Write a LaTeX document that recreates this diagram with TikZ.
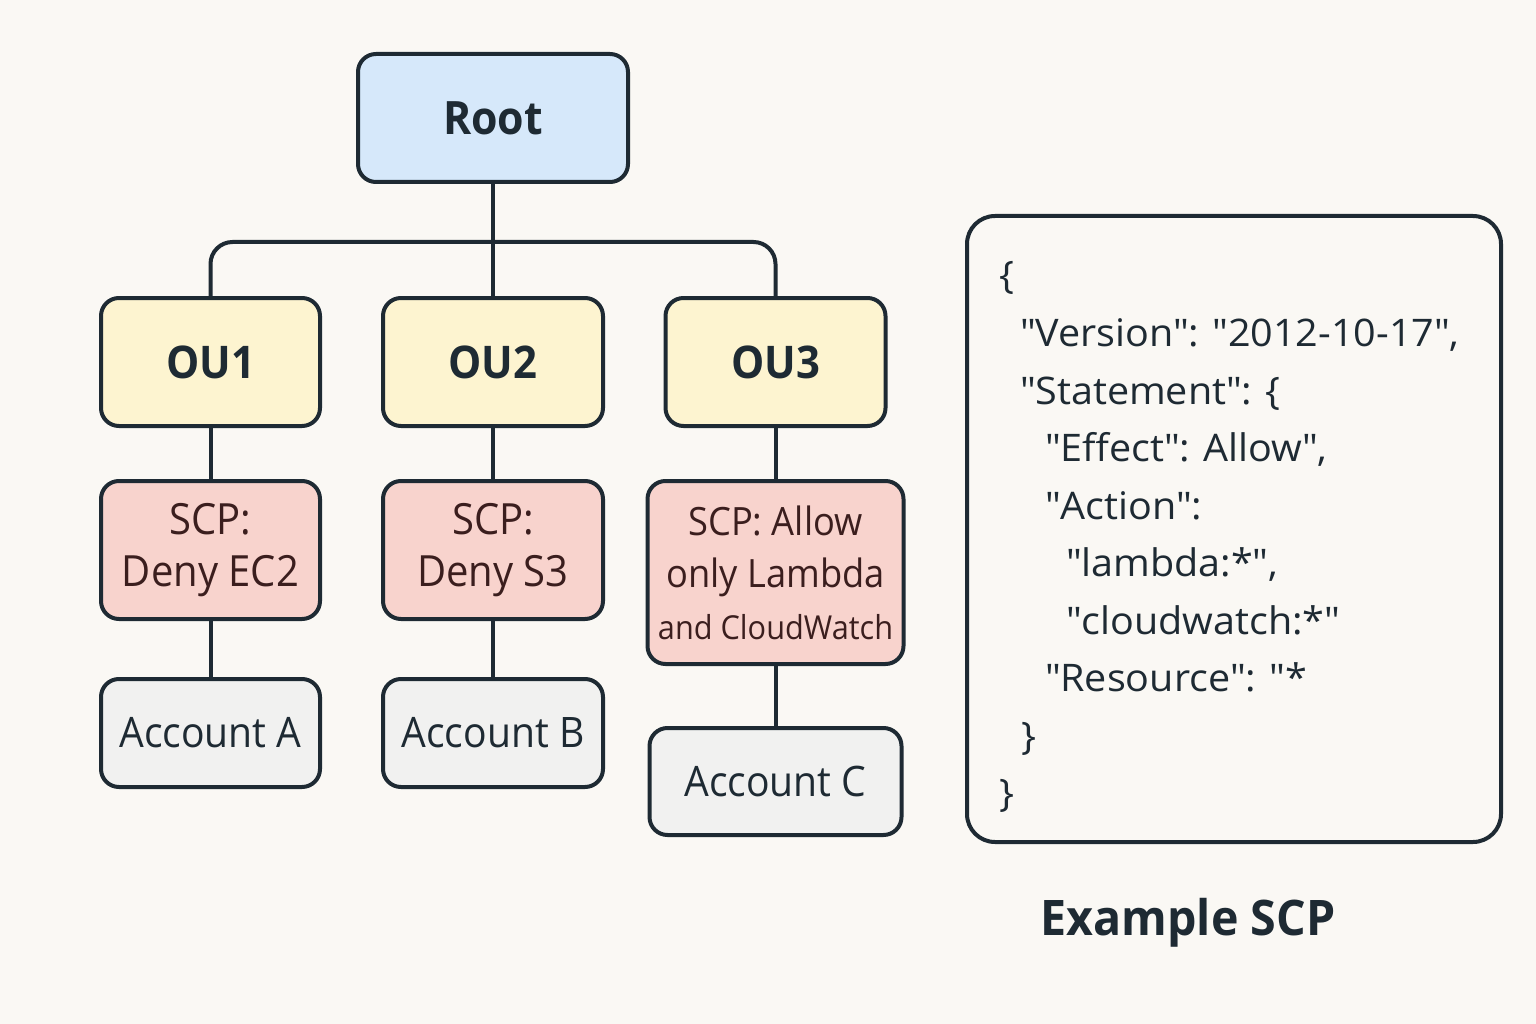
\documentclass[tikz,border=0pt]{standalone}
\usepackage{fontspec}
\setmainfont{Open Sans}
\newfontfamily\boxfont{Open Sans}[FakeStretch=0.93]
\newfontfamily\boxbold{Open Sans Bold}[FakeStretch=0.93]
\newfontfamily\titlefont{Open Sans Bold}[FakeStretch=0.95]
\newfontfamily\jsonfont{Open Sans}[FakeStretch=1.04]
\newcommand\qq{\textquotedbl}
\definecolor{bg}{HTML}{FAF8F4}
\definecolor{ink}{HTML}{1E2A33}
\definecolor{scpink}{HTML}{3B1E1E}
\definecolor{rootfill}{HTML}{D6E8FA}
\definecolor{oufill}{HTML}{FDF4D0}
\definecolor{scpfill}{HTML}{F8D3CD}
\definecolor{accfill}{HTML}{F1F1F0}
\begin{document}
\begin{tikzpicture}[x=1pt,y=-1pt,
  box/.style={draw=ink, line width=4pt, rounded corners=18pt, inner sep=0pt, align=center, text=ink},
  rootbox/.style={box, fill=rootfill, font=\boxbold\fontsize{46}{56}\selectfont},
  oubox/.style={box, fill=oufill, font=\boxbold\fontsize{45}{56}\selectfont},
  scpbox/.style={box, fill=scpfill, text=scpink, font=\boxfont\fontsize{43}{52}\selectfont},
  accbox/.style={box, fill=accfill, font=\boxfont\fontsize{42}{50}\selectfont},
  wire/.style={draw=ink, line width=4pt},
  json/.style={anchor=base west, inner sep=0pt, text=ink, font=\jsonfont\fontsize{38}{44}\selectfont},
  jsonframe/.style={draw=ink, line width=4pt, rounded corners=28pt}
]
\fill[bg] (0,0) rectangle (1536,1024);
\useasboundingbox (0,0) rectangle (1536,1024);

% tree nodes
\node[rootbox, minimum width=270pt, minimum height=128pt] (root) at (493,118) {Root};
\node[oubox, minimum width=219pt, minimum height=128pt] (ou1) at (210.5,362) {OU1};
\node[oubox, minimum width=220pt, minimum height=128pt] (ou2) at (493,362) {OU2};
\node[oubox, minimum width=220pt, minimum height=128pt] (ou3) at (775.5,362) {OU3};

\node[scpbox, minimum width=219pt, minimum height=138pt] (scp1) at (210.5,550) {SCP:\\Deny EC2};
\node[scpbox, minimum width=220pt, minimum height=138pt] (scp2) at (493,550) {SCP:\\Deny S3};
\node[scpbox, minimum width=256pt, minimum height=183pt, font=\boxfont\fontsize{39}{52}\selectfont] (scp3) at (775.5,572.5)
  {SCP: Allow\\only Lambda\\{\fontsize{33}{50}\selectfont and CloudWatch}};

\node[accbox, minimum width=219pt, minimum height=108pt] (acca) at (210.5,733) {Account A};
\node[accbox, minimum width=220pt, minimum height=108pt] (accb) at (493,733) {Account B};
\node[accbox, minimum width=252pt, minimum height=107pt] (accc) at (775.5,781.5) {Account C};

% connectors
\coordinate (bar) at (493,242);
\draw[wire] (root) -- (ou2);
\draw[wire, rounded corners=22pt] (ou1.north) |- (bar) -- (ou3.north |- bar) -- (ou3.north);
\draw[wire] (ou1) -- (scp1);
\draw[wire] (ou2) -- (scp2);
\draw[wire] (ou3) -- (scp3);
\draw[wire] (scp1) -- (acca);
\draw[wire] (scp2) -- (accb);
\draw[wire] (scp3) -- (accc);

% example SCP
\draw[jsonframe] (967,216) rectangle (1501,842);
\node[json] (j0) at (999,289) {\{};
\node[json] (j1) at (1020,346.5) {\qq Version\qq: \qq 2012-10-17\qq,};
\node[json] (j2) at (1020,404) {\qq Statement\qq: \{};
\node[json] (j3) at (1045,461.5) {\qq Effect\qq: Allow\qq,};
\node[json] (j4) at (1045,519) {\qq Action\qq:};
\node[json] (j5) at (1066,576.5) {\qq lambda:*\qq,};
\node[json] (j6) at (1066,634) {\qq cloudwatch:*\qq};
\node[json] (j7) at (1045,691.5) {\qq Resource\qq: \qq*};
\node[json] (j8) at (1021,749) {\}};
\node[json] (j9) at (999,806.5) {\}};

\node[anchor=base, inner sep=0pt, text=ink, font=\titlefont\fontsize{49}{60}\selectfont] (title) at (1188,935) {Example SCP};
\end{tikzpicture}
\end{document}
